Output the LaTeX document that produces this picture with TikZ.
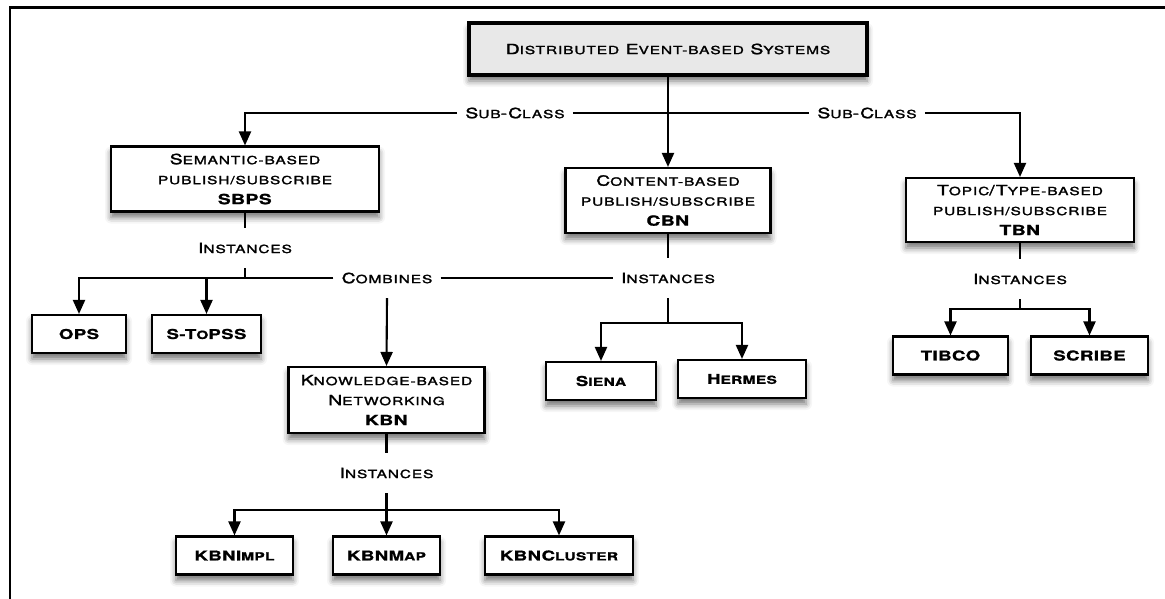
\documentclass[tikz,border=0pt]{standalone}
\usepackage{fontspec}
\setmainfont{TeX Gyre Heros}[FakeStretch=1.38, UprightFeatures={LetterSpace=8, FakeBold=2},
  BoldFeatures={LetterSpace=3, FakeBold=1.2}]
\usetikzlibrary{arrows.meta,shadows.blur}
% lower-case letters are set as smaller capitals
\newcommand\sm[1]{{\fontsize{11.2}{20}\selectfont #1}}
\tikzset{
  box/.style={draw, line width=2.1pt, fill=white, align=center, inner sep=0pt,
    font=\fontsize{14}{20}\selectfont,
    blur shadow={shadow xshift=0pt, shadow yshift=-6pt, shadow blur radius=6pt, shadow opacity=55}},
  rootbox/.style={box, line width=3.8pt, fill=gray!18},
  leaf/.style={box, minimum height=38pt, font=\bfseries\fontsize{13.5}{16}\selectfont},
  lbl/.style={fill=white, inner xsep=8pt, inner ysep=0pt, minimum height=40pt,
    font=\fontsize{14}{20}\selectfont},
  conn/.style={line width=2.1pt},
  arr/.style={conn, -{Triangle[width=12pt,length=14pt]}},
}
\begin{document}
\begin{tikzpicture}[x=1pt, y=-1pt]
\useasboundingbox (0,0) rectangle (1165,598);
\clip (0,0) rectangle (1165,598);
% outer frame
\draw[line width=2.6pt] (10,620) -- (10,7.5) -- (1190,7.5);

% class boxes
\node[rootbox, minimum width=398pt, minimum height=52pt] (root) at (668,49)
  {D\sm{ISTRIBUTED} E\sm{VENT-BASED} S\sm{YSTEMS}};
\node[box, minimum width=268pt, minimum height=65pt] (sbps) at (245,179)
  {S\sm{EMANTIC-BASED}\\\sm{PUBLISH/SUBSCRIBE}\\\textbf{SBPS}};
\node[box, minimum width=205pt, minimum height=65pt] (cbn) at (668,200.5)
  {C\sm{ONTENT-BASED}\\\sm{PUBLISH/SUBSCRIBE}\\\textbf{CBN}};
\node[box, minimum width=228pt, minimum height=64pt] (tbn) at (1020,210)
  {T\sm{OPIC}/T\sm{YPE-BASED}\\\sm{PUBLISH/SUBSCRIBE}\\\textbf{TBN}};
\node[box, minimum width=196pt, minimum height=66pt] (kbn) at (386.5,400)
  {K\sm{NOWLEDGE-BASED}\\N\sm{ETWORKING}\\\textbf{KBN}};

% instance boxes
\node[leaf, minimum width=94pt]  (ops)    at (79,334)      {OPS};
\node[leaf, minimum width=109pt] (stopss) at (206.5,334)   {S-T\sm{O}PSS};
\node[leaf, minimum width=110pt] (siena)  at (601,381)     {S\sm{IENA}};
\node[leaf, minimum width=128pt] (hermes) at (742,379)     {H\sm{ERMES}};
\node[leaf, minimum width=115pt] (tibco)  at (950.5,355.5) {TIBCO};
\node[leaf, minimum width=117pt] (scribe) at (1089.5,355.5){SCRIBE};
\node[leaf, minimum width=117pt] (kimpl)  at (234.5,555.5) {KBNI\sm{MPL}};
\node[leaf, minimum width=107pt] (kmap)   at (386.5,555.5) {KBNM\sm{AP}};
\node[leaf, minimum width=148pt] (kclus)  at (559,555.5)   {KBNC\sm{LUSTER}};

% relation labels
\node[lbl] (sc1) at (515,113)   {S\sm{UB}-C\sm{LASS}};
\node[lbl] (sc2) at (867,113)   {S\sm{UB}-C\sm{LASS}};
\node[lbl] (in1) at (245,248)   {I\sm{NSTANCES}};
\node[lbl] (cmb) at (387,278)   {C\sm{OMBINES}};
\node[lbl] (in2) at (668,278)   {I\sm{NSTANCES}};
\node[lbl] (in3) at (1020,279)  {I\sm{NSTANCES}};
\node[lbl] (in4) at (386.5,473) {I\sm{NSTANCES}};

% branching points
\coordinate (j1) at (245,278);
\coordinate (j2) at (668,323);
\coordinate (j3) at (1020,309);
\coordinate (j4) at (386.5,510);

% sub-classes
\draw[arr] (sc1.west) -| (sbps.north);
\draw[conn] (sc1.east) -- (sc2.west);
\draw[arr] (sc2.east) -| (tbn.north);
\draw[arr] (root.south) -- (cbn.north);

% semantic-based instances and combination
\draw[conn] (sbps.south) -- (in1.north);
\draw[conn] (in1.south) -- (j1);
\draw[arr] (cmb.west) -| (ops.north);
\draw[arr] (j1) -| (stopss.north);
\draw[conn] (cmb.east) -- (in2.west);
\draw[arr] (cmb.south) -- (kbn.north);

% content-based instances
\draw[conn] (cbn.south) -- (in2.north);
\draw[conn] (in2.south) -- (j2);
\draw[arr] (j2) -| (siena.north);
\draw[arr] (j2) -| (hermes.north);

% topic-based instances
\draw[conn] (tbn.south) -- (in3.north);
\draw[conn] (in3.south) -- (j3);
\draw[arr] (j3) -| (tibco.north);
\draw[arr] (j3) -| (scribe.north);

% knowledge-based instances
\draw[conn] (kbn.south) -- (in4.north);
\draw[conn] (in4.south) -- (j4);
\draw[arr] (j4) -| (kimpl.north);
\draw[arr] (j4) -- (kmap.north);
\draw[arr] (j4) -| (kclus.north);
\end{tikzpicture}
\end{document}
